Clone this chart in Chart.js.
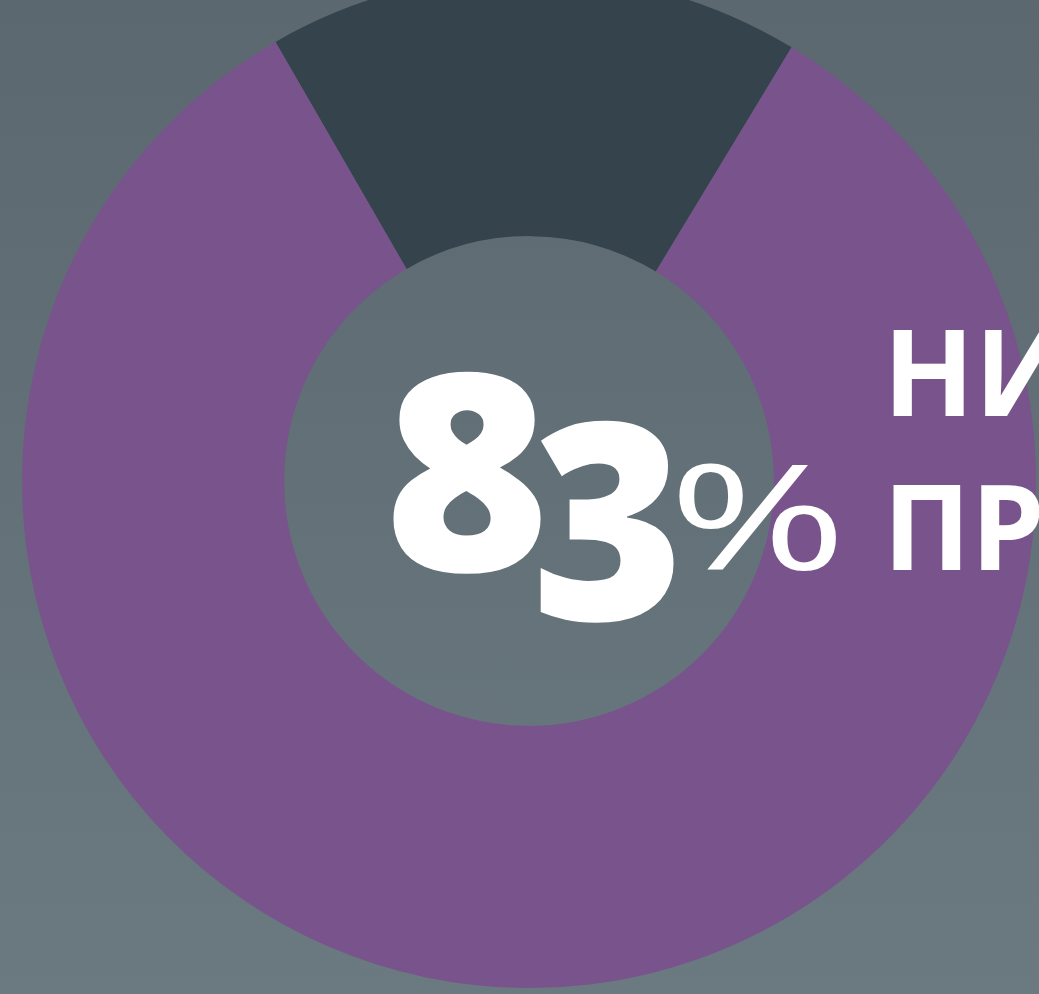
<!DOCTYPE html>
<html>
<head>
<meta charset="utf-8">
<script src="https://cdn.jsdelivr.net/npm/chart.js@4/dist/chart.umd.min.js"></script>
<style>
  html, body {
    margin: 0;
    padding: 0;
    width: 1039px;
    height: 994px;
    overflow: hidden;
    background: linear-gradient(#5b6870, #6b7980);
  }
  #wrap {
    position: absolute;
    left: -21px;
    top: -26px;
    width: 1100px;
    height: 1014px;
  }
</style>
</head>
<body>
<div id="wrap"><canvas id="donut"></canvas></div>
<script>
// values
const segmentLabels = ['Остальные', 'Доля'];
const segmentValues = [17, 83];
const segmentColors = ['#34434c', '#79538c'];

const bigNumber = ['8', '3'];
const unitText = '%';
const sideLines = ['НИ', 'ПР'];

const FONT = '"Open Sans", "Noto Sans", sans-serif';
const NUM_FONT = '"Noto Sans", "Open Sans", sans-serif';

// draw text so its ink starts at x and sits on baseline y, sized by ink height
function drawInk(ctx, text, weight, family, inkHeight, x, y, widthTarget) {
  ctx.font = weight + ' 100px ' + family;
  const probe = ctx.measureText(text);
  const size = 100 * inkHeight / probe.actualBoundingBoxAscent;
  ctx.font = weight + ' ' + size + 'px ' + family;
  const m = ctx.measureText(text);
  ctx.save();
  if (widthTarget) {
    const w = m.actualBoundingBoxLeft + m.actualBoundingBoxRight;
    ctx.translate(x, y);
    ctx.scale(widthTarget / w, 1);
    ctx.fillText(text, m.actualBoundingBoxLeft, 0);
  } else {
    ctx.fillText(text, x + m.actualBoundingBoxLeft, y);
  }
  ctx.restore();
}

const centerText = {
  id: 'centerText',
  afterDraw(chart) {
    const ctx = chart.ctx;
    const arc = chart.getDatasetMeta(0).data[0];
    // page position of the ring centre is (529, 481)
    const ox = arc.x - 529;
    const oy = arc.y - 481;
    ctx.save();
    ctx.fillStyle = '#ffffff';
    ctx.textAlign = 'left';
    ctx.textBaseline = 'alphabetic';
    drawInk(ctx, bigNumber[0], 900, NUM_FONT, 198, 393 + ox, 571 + oy, 150);
    drawInk(ctx, bigNumber[1], 900, NUM_FONT, 198, 540 + ox, 620 + oy, 134);
    drawInk(ctx, unitText, 500, FONT, 107, 679 + ox, 570 + oy, 157);
    drawInk(ctx, sideLines[0], 700, FONT, 86, 893 + ox, 416 + oy);
    drawInk(ctx, sideLines[1], 700, FONT, 86, 893 + ox, 570 + oy);
    ctx.restore();
  }
};

new Chart(document.getElementById('donut'), {
  type: 'doughnut',
  data: {
    labels: segmentLabels,
    datasets: [{
      data: segmentValues,
      backgroundColor: segmentColors,
      borderWidth: 0,
      hoverOffset: 0
    }]
  },
  options: {
    responsive: true,
    maintainAspectRatio: false,
    animation: false,
    cutout: '48.3%',
    rotation: -30,
    layout: { padding: 0 },
    plugins: {
      legend: { display: false },
      tooltip: { enabled: false }
    }
  },
  plugins: [centerText]
});
</script>
</body>
</html>
